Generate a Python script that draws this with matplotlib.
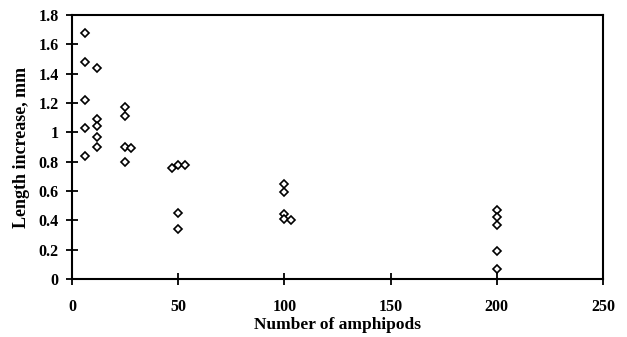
import matplotlib
matplotlib.use("Agg")
import matplotlib.pyplot as plt

x_vals = [6, 6, 6, 6, 6,
          12, 12, 12, 12, 12,
          25, 25, 25, 25, 28,
          47, 50, 53, 50, 50,
          100, 100, 100, 100, 103,
          200, 200, 200, 200, 200]
y_vals = [1.68, 1.48, 1.22, 1.03, 0.84,
          1.44, 1.09, 1.04, 0.97, 0.90,
          1.17, 1.11, 0.90, 0.80, 0.89,
          0.76, 0.78, 0.78, 0.45, 0.34,
          0.65, 0.59, 0.44, 0.41, 0.40,
          0.47, 0.42, 0.37, 0.19, 0.07]
x_ticks = [0, 50, 100, 150, 200, 250]
y_ticks = [0, 0.2, 0.4, 0.6, 0.8, 1.0, 1.2, 1.4, 1.6, 1.8]
y_tick_labels = ["0", "0.2", "0.4", "0.6", "0.8", "1", "1.2", "1.4", "1.6", "1.8"]

plt.rcParams['font.family'] = ['Liberation Serif', 'DejaVu Serif']
fig = plt.figure(figsize=(6.27, 3.37), dpi=100)
ax = fig.add_axes([72/627, 58/337, 531/627, 264/337])

ax.plot(x_vals, y_vals, linestyle='none', marker='D', markersize=4.5,
        markerfacecolor='white', markeredgecolor='black', markeredgewidth=1.2)

ax.set_xlim(0, 250)
ax.set_ylim(0, 1.8)
ax.set_xticks(x_ticks)
ax.set_xticklabels([str(t) for t in x_ticks], fontweight='bold', fontsize=11.5)
ax.set_yticks(y_ticks)
ax.set_yticklabels(y_tick_labels, fontweight='bold', fontsize=11.5)
ax.tick_params(axis='x', direction='inout', length=9, width=1.3, pad=10)
ax.tick_params(axis='y', direction='inout', length=9, width=1.3, pad=5)
for s in ax.spines.values():
    s.set_linewidth(1.5)
ax.set_xlabel("Number of amphipods", fontweight='bold', fontsize=12.5, labelpad=1)
ax.set_ylabel("Length increase, mm", fontweight='bold', fontsize=13, labelpad=6)

fig.savefig("out.png", dpi=100)
